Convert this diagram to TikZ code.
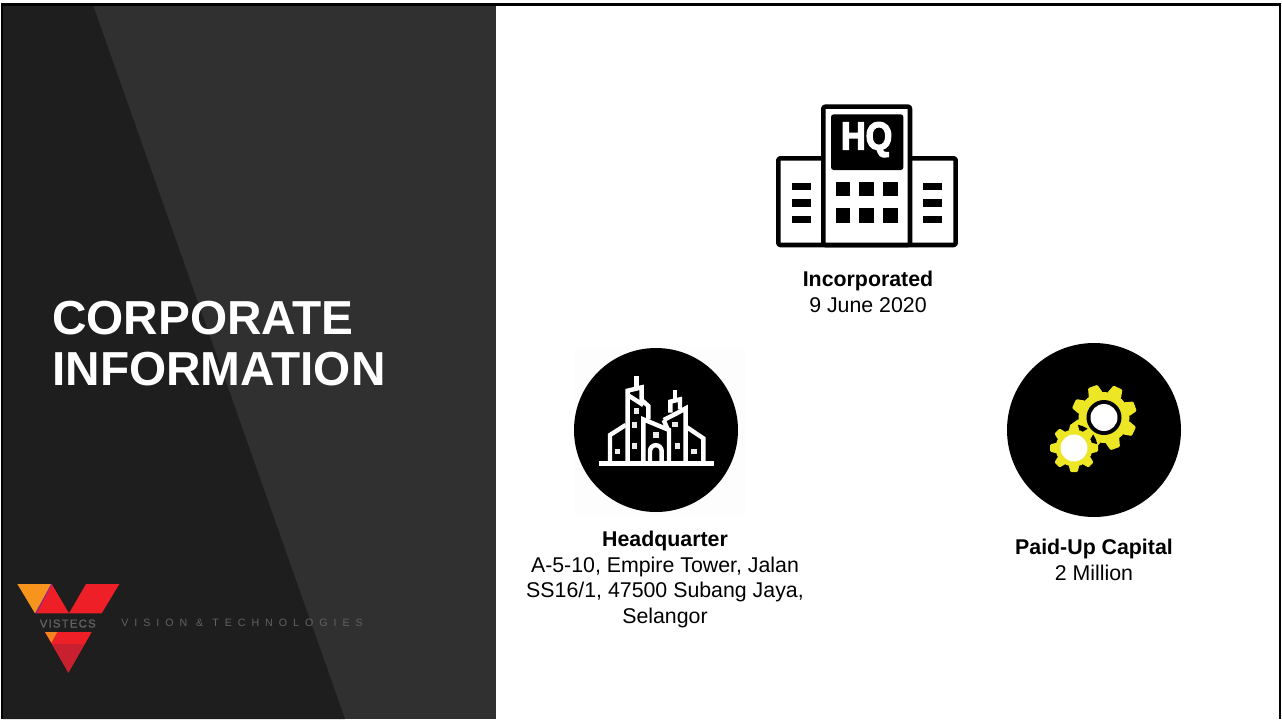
\documentclass[tikz,border=0pt]{standalone}
\usepackage{fontspec}
\setmainfont{Liberation Sans}
\newfontfamily\hqfont[FakeBold=4]{Liberation Sans}
\newfontfamily\tagfont[LetterSpace=56]{Liberation Sans}
\newfontfamily\brandfont[LetterSpace=10,FakeBold=1]{Liberation Sans}
\definecolor{paneldark}{HTML}{1E1E1E}
\definecolor{panellight}{HTML}{303030}
\definecolor{gearyellow}{HTML}{EDE625}
\definecolor{logored}{HTML}{EE1F27}
\definecolor{logoorange}{HTML}{F7941D}
\definecolor{logodeep}{HTML}{C8202F}
\definecolor{logopurple}{HTML}{A0288C}
\definecolor{logotext}{HTML}{626262}
\tikzset{
  titletext/.style={anchor=base west,inner sep=0,text=white,font=\fontsize{35.8}{42}\selectfont\bfseries},
  bodytext/.style={anchor=north,inner sep=0,align=center,font=\fontsize{16}{19.2}\selectfont},
  iconline/.style={line width=3.4pt,line join=round,rounded corners=1.5pt},
  cityline/.style={draw=white,line width=3.3pt,line join=miter},
}
\usetikzlibrary{calc}
% gear: #1 centre, #2 outer radius, #3 root radius, #4 start angle, #5 colour
\newcommand{\geartooth}[5]{%
  \foreach \a in {0,45,...,315}{%
    \fill[#5,rotate around={\a+#4:#1},rounded corners=0.8pt]
      ($#1+(#3-1.5,-7.2*#2/32)$) -- ($#1+(#2,-4.8*#2/32)$) -- ($#1+(#2,4.8*#2/32)$) -- ($#1+(#3-1.5,7.2*#2/32)$) -- cycle;
  }%
  \fill[#5] #1 circle (#3);
}
\begin{document}
\begin{tikzpicture}[x=0.75pt,y=-0.75pt]
\useasboundingbox (0,0) rectangle (1282,719);
% page
\fill[white] (0,0) rectangle (1282,719);
\fill[panellight] (3,5) rectangle (496,719);
\fill[paneldark] (3,5) -- (93,5) -- (345,719) -- (3,719) -- cycle;
\fill[black] (0.6,3.2) rectangle (1281.2,5.8);
\fill[black] (0.6,3.2) rectangle (3,719);
\fill[black] (1279,3.2) rectangle (1281.2,719);
% title
\node[titletext] (t1) at (52,334) {CORPORATE};
\node[titletext] (t2) at (52,385.5) {INFORMATION};
% logo
\begin{scope}[shift={(0,570)},x=0.25pt,y=-0.25pt]
  \fill[logoorange] (52,42) -- (155,42) -- (105,130) -- cycle;
  \fill[logored] (155,42) -- (207,130) -- (110,130) -- cycle;
  \draw[logopurple,line width=0.9pt] (155,42) -- (108,130);
  \fill[logored] (258,42) -- (358,42) -- (305,130) -- (207,130) -- cycle;
  \fill[logored] (135,186) -- (275,186) -- (205,308) -- cycle;
  \fill[logodeep] (158,222) -- (253,222) -- (205,308) -- cycle;
  \fill[logoorange!85!logored] (135,186) -- (172,186) -- (154,218) -- cycle;
\end{scope}
\node[anchor=base west,inner sep=0,text=logotext,font=\brandfont\fontsize{8.6}{10}\selectfont] (brand) at (39.5,627.5) {VISTECS};
\node[anchor=base west,inner sep=0,text=logotext,font=\tagfont\fontsize{8}{9}\selectfont] (tag) at (121,626.5) {VISION \& TECHNOLOGIES};
% HQ icon
\begin{scope}[shift={(760,90)},x=0.25pt,y=-0.25pt]
  \draw[iconline,fill=white] (55,205) rectangle (587,465);
  \draw[iconline,fill=white] (190,50) rectangle (450,465);
  \fill[black,rounded corners=2pt] (213,73) rectangle (430,240);
  \foreach \x in {227,298,370}{
    \foreach \y in {275,355}{
      \fill[black] (\x,\y) rectangle +(43,43);
    }
  }
  \foreach \y in {278,328,378}{
    \fill[black] (95,\y) rectangle +(57,22);
    \fill[black] (490,\y) rectangle +(57,22);
  }
  \node[inner sep=0,text=white,xscale=0.88,font=\hqfont\fontsize{29}{30}\selectfont\bfseries] (hq) at (320,149) {HQ};
\end{scope}
\node[bodytext] (inc) at (868,271) {\textbf{Incorporated}\\9 June 2020};
% city icon
\fill[black!0.6] (575,348) rectangle (745,516);
\fill[black] (656,430) circle (82);
\begin{scope}[shift={(595,370)},x=0.25pt,y=-0.25pt]
  \fill[white] (13,272) rectangle (358,287);
  % outer wings
  \draw[cityline] (45,274) -- (45,195) -- (92,165);
  \draw[cityline] (325,274) -- (325,205) -- (276,172);
  % left tower
  \draw[cityline] (98,274) -- (98,62) -- (140,52) -- (140,90) -- (160,108) -- (160,148);
  \draw[cityline] (98,75) -- (145,105);
  \draw[cityline] (125,18) -- (125,52);
  % middle building
  \draw[cityline] (145,274) -- (145,148) -- (222,180) -- (222,274);
  % right tower
  \draw[cityline] (206,150) -- (245,130) -- (272,115) -- (272,274);
  \draw[cityline] (226,128) -- (226,95) -- (255,88) -- (255,118);
  \draw[cityline] (240,60) -- (240,92);
  \draw[cityline] (206,150) -- (218,178);
  % door
  \draw[cityline] (165,274) -- (165,243) arc[start angle=180,end angle=360,radius=17.5] -- (200,274);
  % windows
  \foreach \x/\y in {125/123,118/165,118/228,68/245,183/195,240/163,248/228,297/245}{
    \fill[white!92!black] (\x-8,\y-8) rectangle (\x+8,\y+8);
  }
\end{scope}
\node[bodytext] (hqtext) at (665,531) {\textbf{Headquarter}\\A-5-10, Empire Tower, Jalan\\SS16/1, 47500 Subang Jaya,\\Selangor};
% gear icon
\fill[black] (1094,430) circle (87);
\geartooth{(1104,417.5)}{33}{25.5}{20}{gearyellow}
\fill[black] (1104,417.5) circle (17.5);
\fill[white] (1104,417.5) circle (13.5);
\fill[black] (1074,448) circle (23.5);
\geartooth{(1074,448)}{24}{18.5}{0}{gearyellow}
\fill[white] (1074,448) circle (13.5);
\node[bodytext] (cap) at (1094,539) {\textbf{Paid-Up Capital}\\2 Million};
\end{tikzpicture}
\end{document}
